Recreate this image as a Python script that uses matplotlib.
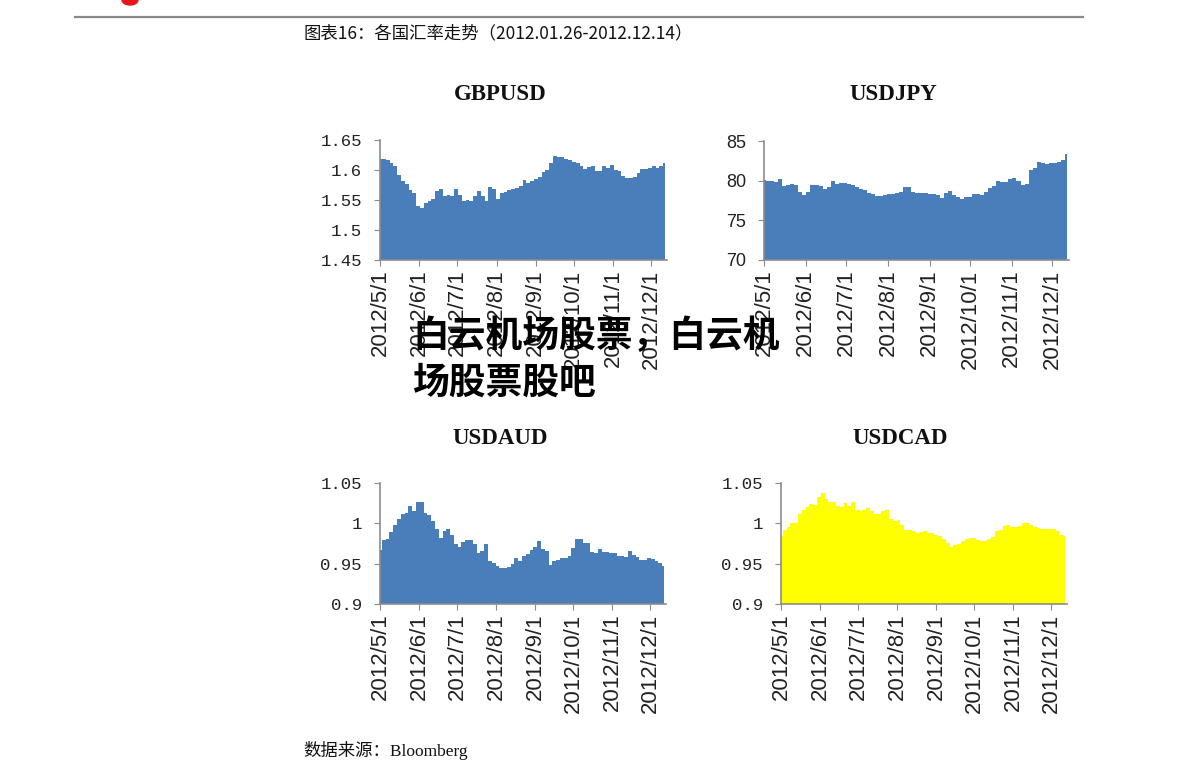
import matplotlib
matplotlib.use('Agg')
import matplotlib.pyplot as plt
from matplotlib.patches import Ellipse
import pandas as pd

# Data, one value every 3 days from 2012/5/1
dates = pd.date_range('2012-05-01', periods=76, freq='3D')

gbpusd = [1.619, 1.619, 1.616, 1.611, 1.607, 1.592, 1.582, 1.577, 1.566, 1.562,
          1.540, 1.536, 1.545, 1.548, 1.551, 1.565, 1.569, 1.557, 1.558, 1.556,
          1.569, 1.559, 1.549, 1.550, 1.548, 1.556, 1.565, 1.556, 1.549, 1.571,
          1.568, 1.551, 1.561, 1.563, 1.567, 1.569, 1.570, 1.573, 1.584, 1.579,
          1.581, 1.585, 1.589, 1.597, 1.600, 1.612, 1.623, 1.622, 1.621, 1.619,
          1.617, 1.613, 1.611, 1.606, 1.601, 1.605, 1.606, 1.598, 1.599, 1.607,
          1.603, 1.608, 1.600, 1.598, 1.590, 1.586, 1.586, 1.589, 1.595, 1.601,
          1.601, 1.603, 1.607, 1.603, 1.606, 1.611]

usdjpy = [80.1, 79.9, 79.9, 79.8, 80.2, 79.3, 79.5, 79.6, 79.5, 78.6,
          78.2, 78.6, 79.4, 79.4, 79.3, 78.9, 79.2, 79.9, 79.6, 79.7,
          79.7, 79.6, 79.5, 79.2, 79.0, 78.8, 78.4, 78.3, 78.1, 78.1,
          78.2, 78.3, 78.3, 78.4, 78.6, 79.2, 79.2, 78.6, 78.5, 78.5,
          78.4, 78.3, 78.3, 78.2, 77.8, 78.4, 78.7, 78.2, 78.0, 77.7,
          77.9, 78.0, 78.3, 78.3, 78.2, 78.6, 79.1, 79.3, 79.9, 79.8,
          79.8, 80.2, 80.3, 80.0, 79.5, 79.6, 81.3, 81.6, 82.3, 82.2,
          82.1, 82.2, 82.2, 82.4, 82.6, 83.4]

usdaud = [0.967, 0.979, 0.981, 0.989, 0.998, 1.005, 1.011, 1.013, 1.022, 1.015,
          1.027, 1.027, 1.013, 1.010, 1.003, 0.993, 0.982, 0.990, 0.993, 0.986,
          0.974, 0.971, 0.977, 0.979, 0.979, 0.974, 0.963, 0.966, 0.974, 0.953,
          0.951, 0.947, 0.945, 0.945, 0.946, 0.950, 0.957, 0.953, 0.959, 0.962,
          0.967, 0.971, 0.978, 0.968, 0.966, 0.948, 0.953, 0.955, 0.957, 0.957,
          0.959, 0.969, 0.980, 0.980, 0.976, 0.976, 0.964, 0.963, 0.968, 0.965,
          0.964, 0.963, 0.963, 0.960, 0.959, 0.958, 0.966, 0.961, 0.958, 0.954,
          0.955, 0.957, 0.956, 0.953, 0.951, 0.947]

usdcad = [0.984, 0.992, 0.995, 1.000, 1.001, 1.011, 1.017, 1.020, 1.024, 1.023,
          1.033, 1.038, 1.030, 1.027, 1.026, 1.021, 1.020, 1.025, 1.021, 1.026,
          1.017, 1.015, 1.016, 1.019, 1.015, 1.012, 1.011, 1.015, 1.017, 1.005,
          1.003, 1.004, 0.998, 0.992, 0.992, 0.990, 0.988, 0.989, 0.990, 0.988,
          0.988, 0.986, 0.984, 0.980, 0.976, 0.971, 0.973, 0.975, 0.978, 0.981,
          0.982, 0.982, 0.979, 0.978, 0.978, 0.980, 0.983, 0.990, 0.992, 0.997,
          0.998, 0.996, 0.996, 0.997, 1.000, 1.000, 0.998, 0.996, 0.994, 0.993,
          0.993, 0.993, 0.993, 0.990, 0.985, 0.984]

month_ticks = pd.date_range('2012-05-01', '2012-12-01', freq='MS')
month_labels = [f'{d.year}/{d.month}/{d.day}' for d in month_ticks]

gbp_ticks = [1.45, 1.5, 1.55, 1.6, 1.65]
gbp_labels = ['1.45', '1.5', '1.55', '1.6', '1.65']
jpy_ticks = [70, 75, 80, 85]
jpy_labels = ['70', '75', '80', '85']
aud_ticks = [0.9, 0.95, 1.0, 1.05]
aud_labels = ['0.9', '0.95', '1', '1.05']

blue = '#4a7ebb'
yellow = '#ffff00'
grey = '#8c8c8c'

fig = plt.figure(figsize=(11.91, 7.81), dpi=100)
fig.set_facecolor('white')
W, H = 1191, 781

def px_axes(left, top, right, bottom):
    return fig.add_axes([left / W, 1 - bottom / H, (right - left) / W, (bottom - top) / H])

def area_panel(ax, values, color, yticks, ylabels, mono):
    ax.fill_between(dates, values, yticks[0], color=color, lw=0, step='mid')
    ax.set_ylim(yticks[0], yticks[-1])
    ax.set_xlim(pd.Timestamp('2012-05-01'), pd.Timestamp('2012-12-13 12:00'))
    for s in ['top', 'right']:
        ax.spines[s].set_visible(False)
    for s in ['left', 'bottom']:
        ax.spines[s].set_color(grey)
        ax.spines[s].set_linewidth(1.2)
    ax.set_yticks(yticks)
    ax.set_yticklabels(ylabels)
    ax.set_xticks(month_ticks)
    ax.set_xticklabels(month_labels, rotation=90, family='Liberation Sans',
                       fontsize=16, color='#222222')
    for lab in ax.get_yticklabels():
        if mono:
            lab.set_family('Liberation Mono')
            lab.set_fontsize(12.5)
        else:
            lab.set_family('Liberation Sans')
            lab.set_fontsize(13)
        lab.set_color('#222222')
    ax.tick_params(axis='y', direction='out', length=4, color=grey, pad=9)
    ax.tick_params(axis='x', direction='out', length=4, color=grey, pad=3)
    ax.set_facecolor('none')

ax1 = px_axes(380, 140, 667, 260)
area_panel(ax1, gbpusd, blue, gbp_ticks, gbp_labels, True)
ax2 = px_axes(764, 141, 1069, 260)
area_panel(ax2, usdjpy, blue, jpy_ticks, jpy_labels, False)
ax3 = px_axes(380, 483, 666, 604)
area_panel(ax3, usdaud, blue, aud_ticks, aud_labels, True)
ax4 = px_axes(781, 483, 1067, 604)
area_panel(ax4, usdcad, yellow, aud_ticks, aud_labels, True)

# Panel titles
for name, x, y in [('GBPUSD', 500, 95), ('USDJPY', 893, 95),
                   ('USDAUD', 500, 438), ('USDCAD', 900, 438)]:
    fig.text(x / W, 1 - y / H, name, ha='center', va='center',
             family='Liberation Serif', fontweight='bold', fontsize=16.5, color='#111111')

# Header rule and logo scrap
fig.add_artist(plt.Line2D([75 / W, 1083 / W], [1 - 17 / H, 1 - 17 / H],
                          color='#8a8a8a', lw=1.6))
fig.add_artist(Ellipse((130 / W, 1 - 0 / H), 16 / W, 10 / H, color='#e8141c'))

fig.text(303 / W, 1 - 33 / H, '图表16：各国汇率走势（2012.01.26-2012.12.14）',
         ha='left', va='center', family=['Noto Sans CJK SC', 'DejaVu Sans'],
         fontsize=12.5, color='#111111')

fig.text(303 / W, 1 - 750 / H, '数据来源：Bloomberg', ha='left', va='center',
         family=['Liberation Serif', 'Noto Sans CJK SC'], fontsize=12.5, color='#111111')

# Overlay text
fig.text(412 / W, 1 - 360 / H, '白云机场股票，白云机\n场股票股吧', ha='left', va='center',
         family=['Noto Sans CJK SC', 'DejaVu Sans'], fontweight='black',
         fontsize=26.5, linespacing=1.35, color='#000000')

fig.savefig('out.png', dpi=100, facecolor='white')
